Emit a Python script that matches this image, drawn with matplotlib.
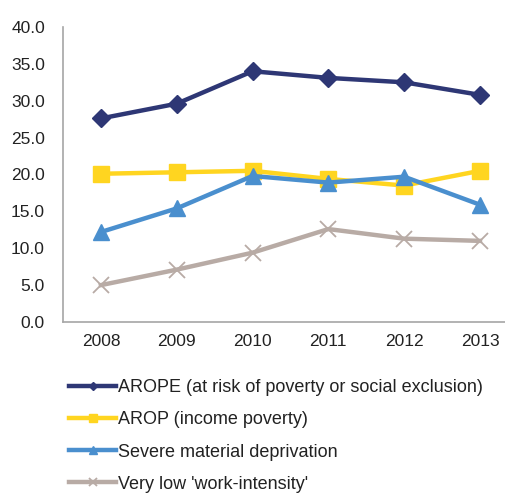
import matplotlib.pyplot as plt

plt.rcParams['font.family'] = ['Liberation Sans', 'DejaVu Sans']

years = ['2008', '2009', '2010', '2011', '2012', '2013']
arope = [27.6, 29.6, 34.0, 33.1, 32.5, 30.8]
arop = [20.1, 20.3, 20.5, 19.4, 18.5, 20.5]
deprivation = [12.2, 15.4, 19.8, 18.9, 19.7, 15.9]
low_work = [5.0, 7.1, 9.4, 12.6, 11.3, 11.0]

labels = ['AROPE (at risk of poverty or social exclusion)',
          'AROP (income poverty)',
          'Severe material deprivation',
          "Very low 'work-intensity'"]

fig = plt.figure(figsize=(5.05, 4.93), dpi=100)
ax = fig.add_axes([63 / 505, 171 / 493, 442 / 505, 295 / 493])

x = range(len(years))
ax.plot(x, arope, color='#2E3775', lw=3.2, marker='D', ms=9, label=labels[0])
ax.plot(x, arop, color='#FFD520', lw=3.2, marker='s', ms=11, label=labels[1])
ax.plot(x, deprivation, color='#4A8FCE', lw=3.2, marker='^', ms=12, label=labels[2])
ax.plot(x, low_work, color='#B8ABA5', lw=3.2, marker='x', ms=11, mew=1.3, label=labels[3])

ax.set_xlim(-0.5, 5.33)
ax.set_ylim(0, 40)
ax.set_yticks(range(0, 41, 5))
ax.set_yticklabels([f'{v:.1f}' for v in range(0, 41, 5)])
ax.set_xticks(list(x))
ax.set_xticklabels(years)
ax.tick_params(length=0, labelsize=12.5, colors='#222222', pad=9)
ax.tick_params(axis='y', pad=13)

for side in ['top', 'right']:
    ax.spines[side].set_visible(False)
for side in ['left', 'bottom']:
    ax.spines[side].set_color('#A6A6A6')
    ax.spines[side].set_linewidth(1.2)

fig.legend(loc='upper left', bbox_to_anchor=(62 / 505, 1 - 372 / 493),
           frameon=False, fontsize=13, handlelength=2.6, handletextpad=0.08,
           labelspacing=0.84, markerscale=0.5, borderaxespad=0, labelcolor='#222222')

fig.savefig('out.png', dpi=100)
